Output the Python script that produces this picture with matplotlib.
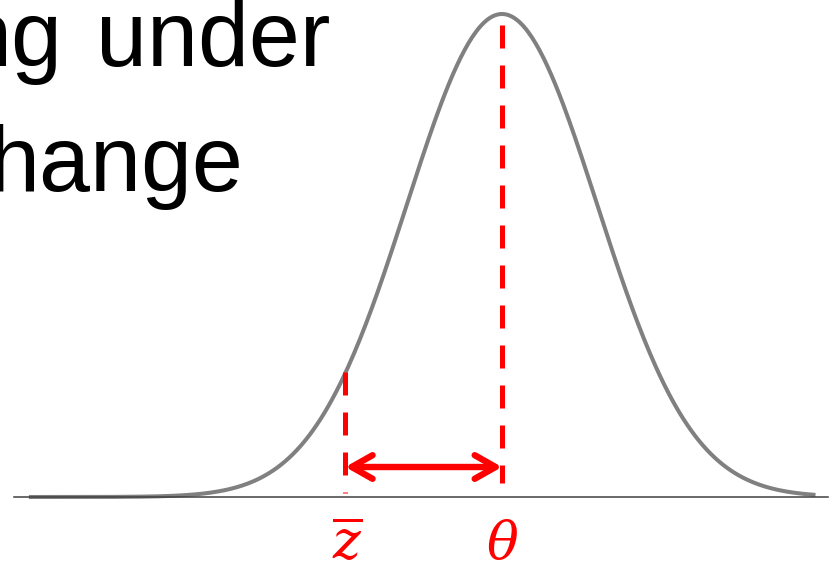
import numpy as np
import matplotlib.pyplot as plt

# bell curve (standard normal shape, scaled to peak 1)
mu = 0.0
sigma = 1.0
x_start, x_end = -4.98, 3.3
z_bar = -1.65
theta = mu
labels = [r'$\overline{z}$', r'$\theta$']
title_words = ['ng', 'under']
title_line2 = 'hange'

plt.rcParams['mathtext.fontset'] = 'dejavuserif'

fig = plt.figure(figsize=(8.38, 5.61), dpi=100)
ax = fig.add_axes([0, 0, 1, 1])
px = 95.0  # pixels per sigma
ax.set_xlim(-502 / px, (838 - 502) / px)
ax.set_ylim(-(561 - 497) / 483, 1 + 14 / 483)
ax.axis('off')

xs = np.linspace(x_start, x_end, 400)
ys = np.exp(-0.5 * ((xs - mu) / sigma) ** 2)
ax.plot(xs, ys, color='#808080', lw=2.9, solid_capstyle='butt', zorder=2)

# baseline
ax.plot([(14 - 502) / px, (828 - 502) / px], [0, 0], color='#404040', lw=1.1, zorder=3)

# dashed verticals
red = '#ff0000'
ax.plot([theta, theta], [1 - 11 / 483, 14 / 483], color=red, lw=3.6,
        dashes=(4.6, 3.4), zorder=4)
ax.plot([z_bar, z_bar], [125 / 483, 4 / 483], color=red, lw=3.6,
        dashes=(4.6, 3.4), zorder=4)

# double arrow
ax.annotate('', xy=(theta, 30 / 483), xytext=(z_bar, 30 / 483),
            arrowprops=dict(arrowstyle='<->,head_length=1.5,head_width=0.85',
                            color=red, lw=4.6, shrinkA=0, shrinkB=0,
                            capstyle='round', joinstyle='round'), zorder=5)

# labels under axis
for xv, lab in zip([z_bar + 2 / px, theta], labels):
    ax.text(xv, -62 / 483, lab, color=red, fontsize=38, ha='center', va='baseline')

# slide text, cut at the left edge
fig.text(-39 / 838, 1 - 66 / 561, title_words[0], fontsize=66,
         family='Liberation Sans', color='black', ha='left', va='baseline')
fig.text(96 / 838, 1 - 66 / 561, title_words[1], fontsize=66,
         family='Liberation Sans', color='black', ha='left', va='baseline')
fig.text(-11 / 838, 1 - 191 / 561, title_line2, fontsize=66,
         family='Liberation Sans', color='black', ha='left', va='baseline')

fig.savefig('out.png', dpi=100)
